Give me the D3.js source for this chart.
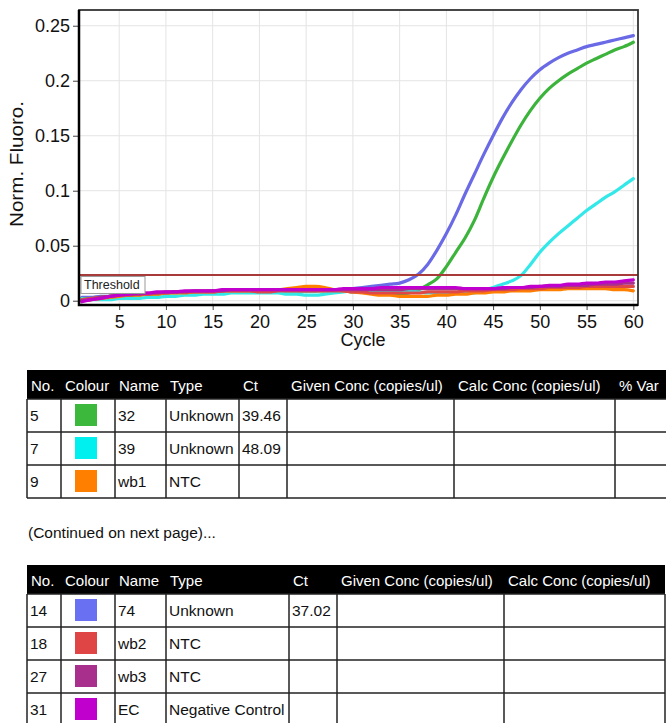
<!DOCTYPE html>
<html>
<head>
<meta charset="utf-8">
<script src="https://cdn.jsdelivr.net/npm/d3@7"></script>
<style>
  html, body { margin: 0; padding: 0; background: #fff; }
  svg { display: block; font-family: "Liberation Sans", Arial, sans-serif; }
</style>
</head>
<body>
<svg id="chart" width="666" height="723"></svg>
<script>
// ---------------- DATA ----------------
const cycles = [1,2,3,4,5,6,7,8,9,10,11,12,13,14,15,16,17,18,19,20,21,22,23,24,25,26,27,28,29,30,
                31,32,33,34,35,36,37,38,39,40,41,42,43,44,45,46,47,48,49,50,51,52,53,54,55,56,57,58,59,60];

const seriesNames = ["74", "32", "39", "wb1", "wb2", "wb3", "EC"];
const seriesColours = ["#6a6ae6", "#3cb43c", "#33e8e8", "#ff8000", "#e04848", "#a8308c", "#c000cc"];

const s74 = [0.003,0.003,0.004,0.004,0.005,0.005,0.006,0.006,0.007,0.007,0.008,0.008,0.008,0.008,0.009,0.009,0.009,0.009,0.009,0.009,
             0.009,0.009,0.009,0.009,0.009,0.009,0.010,0.010,0.010,0.011,0.012,0.013,0.014,0.015,0.016,0.019,0.024,0.033,0.046,0.061,
             0.078,0.097,0.115,0.133,0.150,0.166,0.180,0.192,0.202,0.210,0.216,0.221,0.225,0.228,0.231,0.233,0.235,0.237,0.239,0.241];
const s32 = [0.002,0.002,0.003,0.004,0.004,0.005,0.005,0.006,0.006,0.007,0.007,0.008,0.008,0.008,0.008,0.009,0.009,0.009,0.009,0.009,
             0.009,0.009,0.009,0.009,0.009,0.009,0.009,0.009,0.009,0.008,0.008,0.007,0.007,0.006,0.006,0.007,0.010,0.0145,0.020,0.031,
             0.044,0.057,0.073,0.093,0.112,0.129,0.145,0.160,0.173,0.184,0.193,0.200,0.206,0.211,0.216,0.220,0.224,0.228,0.231,0.235];
const s39 = [0.002,0.001,0.001,0.001,0.002,0.002,0.002,0.003,0.003,0.004,0.004,0.005,0.005,0.006,0.006,0.006,0.007,0.007,0.007,0.007,
             0.007,0.007,0.006,0.006,0.005,0.005,0.006,0.007,0.008,0.009,0.009,0.009,0.009,0.009,0.009,0.009,0.008,0.007,0.007,0.007,
             0.007,0.007,0.007,0.0095,0.012,0.015,0.018,0.023,0.033,0.044,0.053,0.061,0.068,0.075,0.082,0.088,0.094,0.099,0.105,0.111];
const sWb1 = [0.000,0.001,0.002,0.003,0.004,0.005,0.005,0.006,0.006,0.007,0.007,0.007,0.008,0.008,0.008,0.009,0.009,0.009,0.009,0.009,
              0.010,0.010,0.011,0.012,0.013,0.013,0.012,0.010,0.009,0.008,0.007,0.006,0.005,0.005,0.004,0.004,0.004,0.004,0.005,0.005,
              0.006,0.006,0.007,0.007,0.008,0.008,0.009,0.009,0.009,0.010,0.010,0.010,0.011,0.011,0.011,0.011,0.011,0.010,0.010,0.009];
const sWb2 = [0.001,0.002,0.003,0.004,0.005,0.005,0.006,0.006,0.007,0.007,0.008,0.008,0.008,0.008,0.008,0.009,0.009,0.009,0.009,0.008,
              0.008,0.009,0.009,0.009,0.009,0.009,0.009,0.009,0.009,0.008,0.008,0.007,0.007,0.007,0.007,0.007,0.007,0.008,0.008,0.008,
              0.008,0.009,0.009,0.009,0.010,0.010,0.010,0.011,0.011,0.011,0.012,0.012,0.012,0.012,0.013,0.013,0.013,0.013,0.013,0.013];
const sWb3 = [0.000,0.001,0.003,0.004,0.005,0.006,0.006,0.007,0.007,0.008,0.008,0.008,0.009,0.009,0.009,0.009,0.010,0.010,0.010,0.010,
              0.010,0.010,0.010,0.010,0.010,0.010,0.010,0.010,0.010,0.010,0.010,0.010,0.010,0.010,0.010,0.011,0.011,0.011,0.011,0.011,
              0.011,0.011,0.011,0.011,0.011,0.011,0.012,0.012,0.012,0.013,0.013,0.013,0.014,0.014,0.014,0.015,0.015,0.015,0.016,0.016];
const sEC = [-0.001,0.001,0.002,0.004,0.005,0.006,0.007,0.007,0.008,0.008,0.008,0.009,0.009,0.009,0.009,0.010,0.010,0.010,0.010,0.010,
             0.010,0.010,0.010,0.010,0.010,0.010,0.010,0.010,0.011,0.011,0.011,0.011,0.012,0.012,0.012,0.012,0.012,0.012,0.012,0.012,
             0.012,0.011,0.011,0.011,0.011,0.012,0.012,0.012,0.013,0.013,0.014,0.014,0.015,0.015,0.016,0.016,0.017,0.017,0.018,0.019];
const seriesValues = [s74, s32, s39, sWb1, sWb2, sWb3, sEC];

const thresholdValue = 0.0234;
const xTicks = [5,10,15,20,25,30,35,40,45,50,55,60];
const yTicks = [0, 0.05, 0.1, 0.15, 0.2, 0.25];
const yTickLabels = ["0", "0.05", "0.1", "0.15", "0.2", "0.25"];

// tables
const headers1 = ["No.", "Colour", "Name", "Type", "Ct", "Given Conc (copies/ul)", "Calc Conc (copies/ul)", "% Var"];
const t1No = ["5", "7", "9"];
const t1Name = ["32", "39", "wb1"];
const t1Type = ["Unknown", "Unknown", "NTC"];
const t1Ct = ["39.46", "48.09", ""];
const t1Colour = ["#3cb83c", "#00f0f0", "#ff8000"];

const continuedText = "(Continued on next page)...";

const headers2 = ["No.", "Colour", "Name", "Type", "Ct", "Given Conc (copies/ul)", "Calc Conc (copies/ul)"];
const t2No = ["14", "18", "27", "31"];
const t2Name = ["74", "wb2", "wb3", "EC"];
const t2Type = ["Unknown", "NTC", "NTC", "Negative Control"];
const t2Ct = ["37.02", "", "", ""];
const t2Colour = ["#6a70f2", "#e04545", "#a8308c", "#c000cc"];

// ---------------- CHART ----------------
const svg = d3.select("#chart");
const P = {left: 79, right: 638, top: 10, bottom: 305};

const x = d3.scaleLinear().domain([0.7, 60.5]).range([P.left, P.right]);
const y = d3.scaleLinear().domain([-0.0039, 0.2643]).range([P.bottom, P.top]);

svg.append("defs").append("clipPath").attr("id", "clip")
  .append("rect").attr("x", P.left).attr("y", P.top)
  .attr("width", P.right - P.left).attr("height", P.bottom - P.top);

// grid
const grid = svg.append("g");
grid.selectAll("line.v").data(xTicks).join("line")
  .attr("x1", d => x(d)).attr("x2", d => x(d))
  .attr("y1", P.top).attr("y2", P.bottom)
  .attr("stroke", "#e4e4e4").attr("stroke-width", 1);
grid.selectAll("line.h").data(yTicks).join("line")
  .attr("x1", P.left).attr("x2", P.right)
  .attr("y1", d => y(d)).attr("y2", d => y(d))
  .attr("stroke", "#e4e4e4").attr("stroke-width", 1);

// axes
const xAxis = d3.axisBottom(x).tickValues(xTicks).tickSize(5).tickPadding(5);
const gx = svg.append("g").attr("transform", `translate(0,${P.bottom})`).call(xAxis);
gx.select(".domain").remove();
gx.selectAll("text").attr("font-size", 18).attr("font-family", "Liberation Sans, Arial, sans-serif").attr("fill", "#111");
gx.selectAll("line").attr("stroke", "#444");

const yAxis = d3.axisLeft(y).tickValues(yTicks).tickFormat((d, i) => yTickLabels[i]).tickSize(6).tickPadding(3);
const gy = svg.append("g").attr("transform", `translate(${P.left},0)`).call(yAxis);
gy.select(".domain").remove();
gy.selectAll("text").attr("font-size", 18).attr("font-family", "Liberation Sans, Arial, sans-serif").attr("fill", "#111");
gy.selectAll("line").attr("stroke", "#444");

// lines
const line = d3.line().x((d, i) => x(cycles[i])).y(d => y(d)).curve(d3.curveMonotoneX);
const lg = svg.append("g").attr("clip-path", "url(#clip)");
lg.selectAll("path").data(seriesValues).join("path")
  .attr("d", d => line(d))
  .attr("fill", "none")
  .attr("stroke", (d, i) => seriesColours[i])
  .attr("stroke-width", 3.2)
  .attr("stroke-linejoin", "round")
  .attr("stroke-linecap", "round");

// threshold
svg.append("line")
  .attr("x1", P.left).attr("x2", P.right)
  .attr("y1", y(thresholdValue)).attr("y2", y(thresholdValue))
  .attr("stroke", "#a83a3a").attr("stroke-width", 2);
svg.append("rect").attr("x", P.left + 2).attr("y", y(thresholdValue) + 1.5)
  .attr("width", 64).attr("height", 17)
  .attr("fill", "#fff").attr("stroke", "#999").attr("stroke-width", 1);
svg.append("text").attr("x", P.left + 5).attr("y", y(thresholdValue) + 14.5)
  .attr("font-size", 12.5).attr("fill", "#222").text("Threshold");

// frame
svg.append("rect").attr("x", P.left).attr("y", P.top)
  .attr("width", P.right - P.left).attr("height", P.bottom - P.top)
  .attr("fill", "none").attr("stroke", "#333").attr("stroke-width", 1.8);
svg.append("path")
  .attr("d", `M${P.left},${P.top}V${P.bottom}H${P.right}`)
  .attr("fill", "none").attr("stroke", "#000").attr("stroke-width", 2.5);

// axis titles
svg.append("text").attr("x", 363).attr("y", 346).attr("text-anchor", "middle")
  .attr("font-size", 18).attr("fill", "#111").text("Cycle");
svg.append("text").attr("transform", "translate(23,164) rotate(-90)")
  .attr("text-anchor", "middle").attr("font-size", 18).attr("fill", "#111")
  .attr("textLength", 126).attr("lengthAdjust", "spacingAndGlyphs")
  .text("Norm. Fluoro.");

// ---------------- TABLES ----------------
function drawTable(top, headers, colEdges, rowsNo, rowsName, rowsType, rowsCt, rowsColour) {
  const g = svg.append("g");
  const headH = 29, rowH = 33;
  const left = colEdges[0], right = colEdges[colEdges.length - 1];
  const nRows = rowsNo.length;
  const bottom = top + headH + nRows * rowH;
  g.append("rect").attr("x", left).attr("y", top).attr("width", right - left).attr("height", headH)
    .attr("fill", "#000");
  g.selectAll("text.h").data(headers).join("text")
    .attr("x", (d, i) => colEdges[i] + 4)
    .attr("y", top + 21)
    .attr("font-size", 15).attr("fill", "#fff").text(d => d);
  const hl = d3.range(nRows + 1).map(i => top + headH + i * rowH);
  g.selectAll("line.hl").data(hl).join("line")
    .attr("x1", left).attr("x2", right).attr("y1", d => d).attr("y2", d => d)
    .attr("stroke", "#222").attr("stroke-width", 1.5);
  g.selectAll("line.vl").data(colEdges).join("line")
    .attr("x1", d => d).attr("x2", d => d).attr("y1", top + headH).attr("y2", bottom)
    .attr("stroke", "#222").attr("stroke-width", 1.5);
  const cols = [rowsNo, null, rowsName, rowsType, rowsCt];
  rowsNo.forEach((_, r) => {
    const ry = top + headH + r * rowH;
    cols.forEach((arr, c) => {
      if (!arr) return;
      g.append("text").attr("x", colEdges[c] + 3).attr("y", ry + 22)
        .attr("font-size", 15.5).attr("fill", "#111").text(arr[r]);
    });
    g.append("rect").attr("x", colEdges[1] + 14).attr("y", ry + 5)
      .attr("width", 22).attr("height", 22).attr("fill", rowsColour[r]);
  });
}

drawTable(370, headers1, [27, 61, 115, 166, 239, 287, 454, 615, 690],
          t1No, t1Name, t1Type, t1Ct, t1Colour);

svg.append("text").attr("x", 28).attr("y", 538).attr("font-size", 15.5).attr("fill", "#111")
  .text(continuedText);

drawTable(565, headers2, [27, 61, 115, 166, 289, 337, 504, 665],
          t2No, t2Name, t2Type, t2Ct, t2Colour);
</script>
</body>
</html>
